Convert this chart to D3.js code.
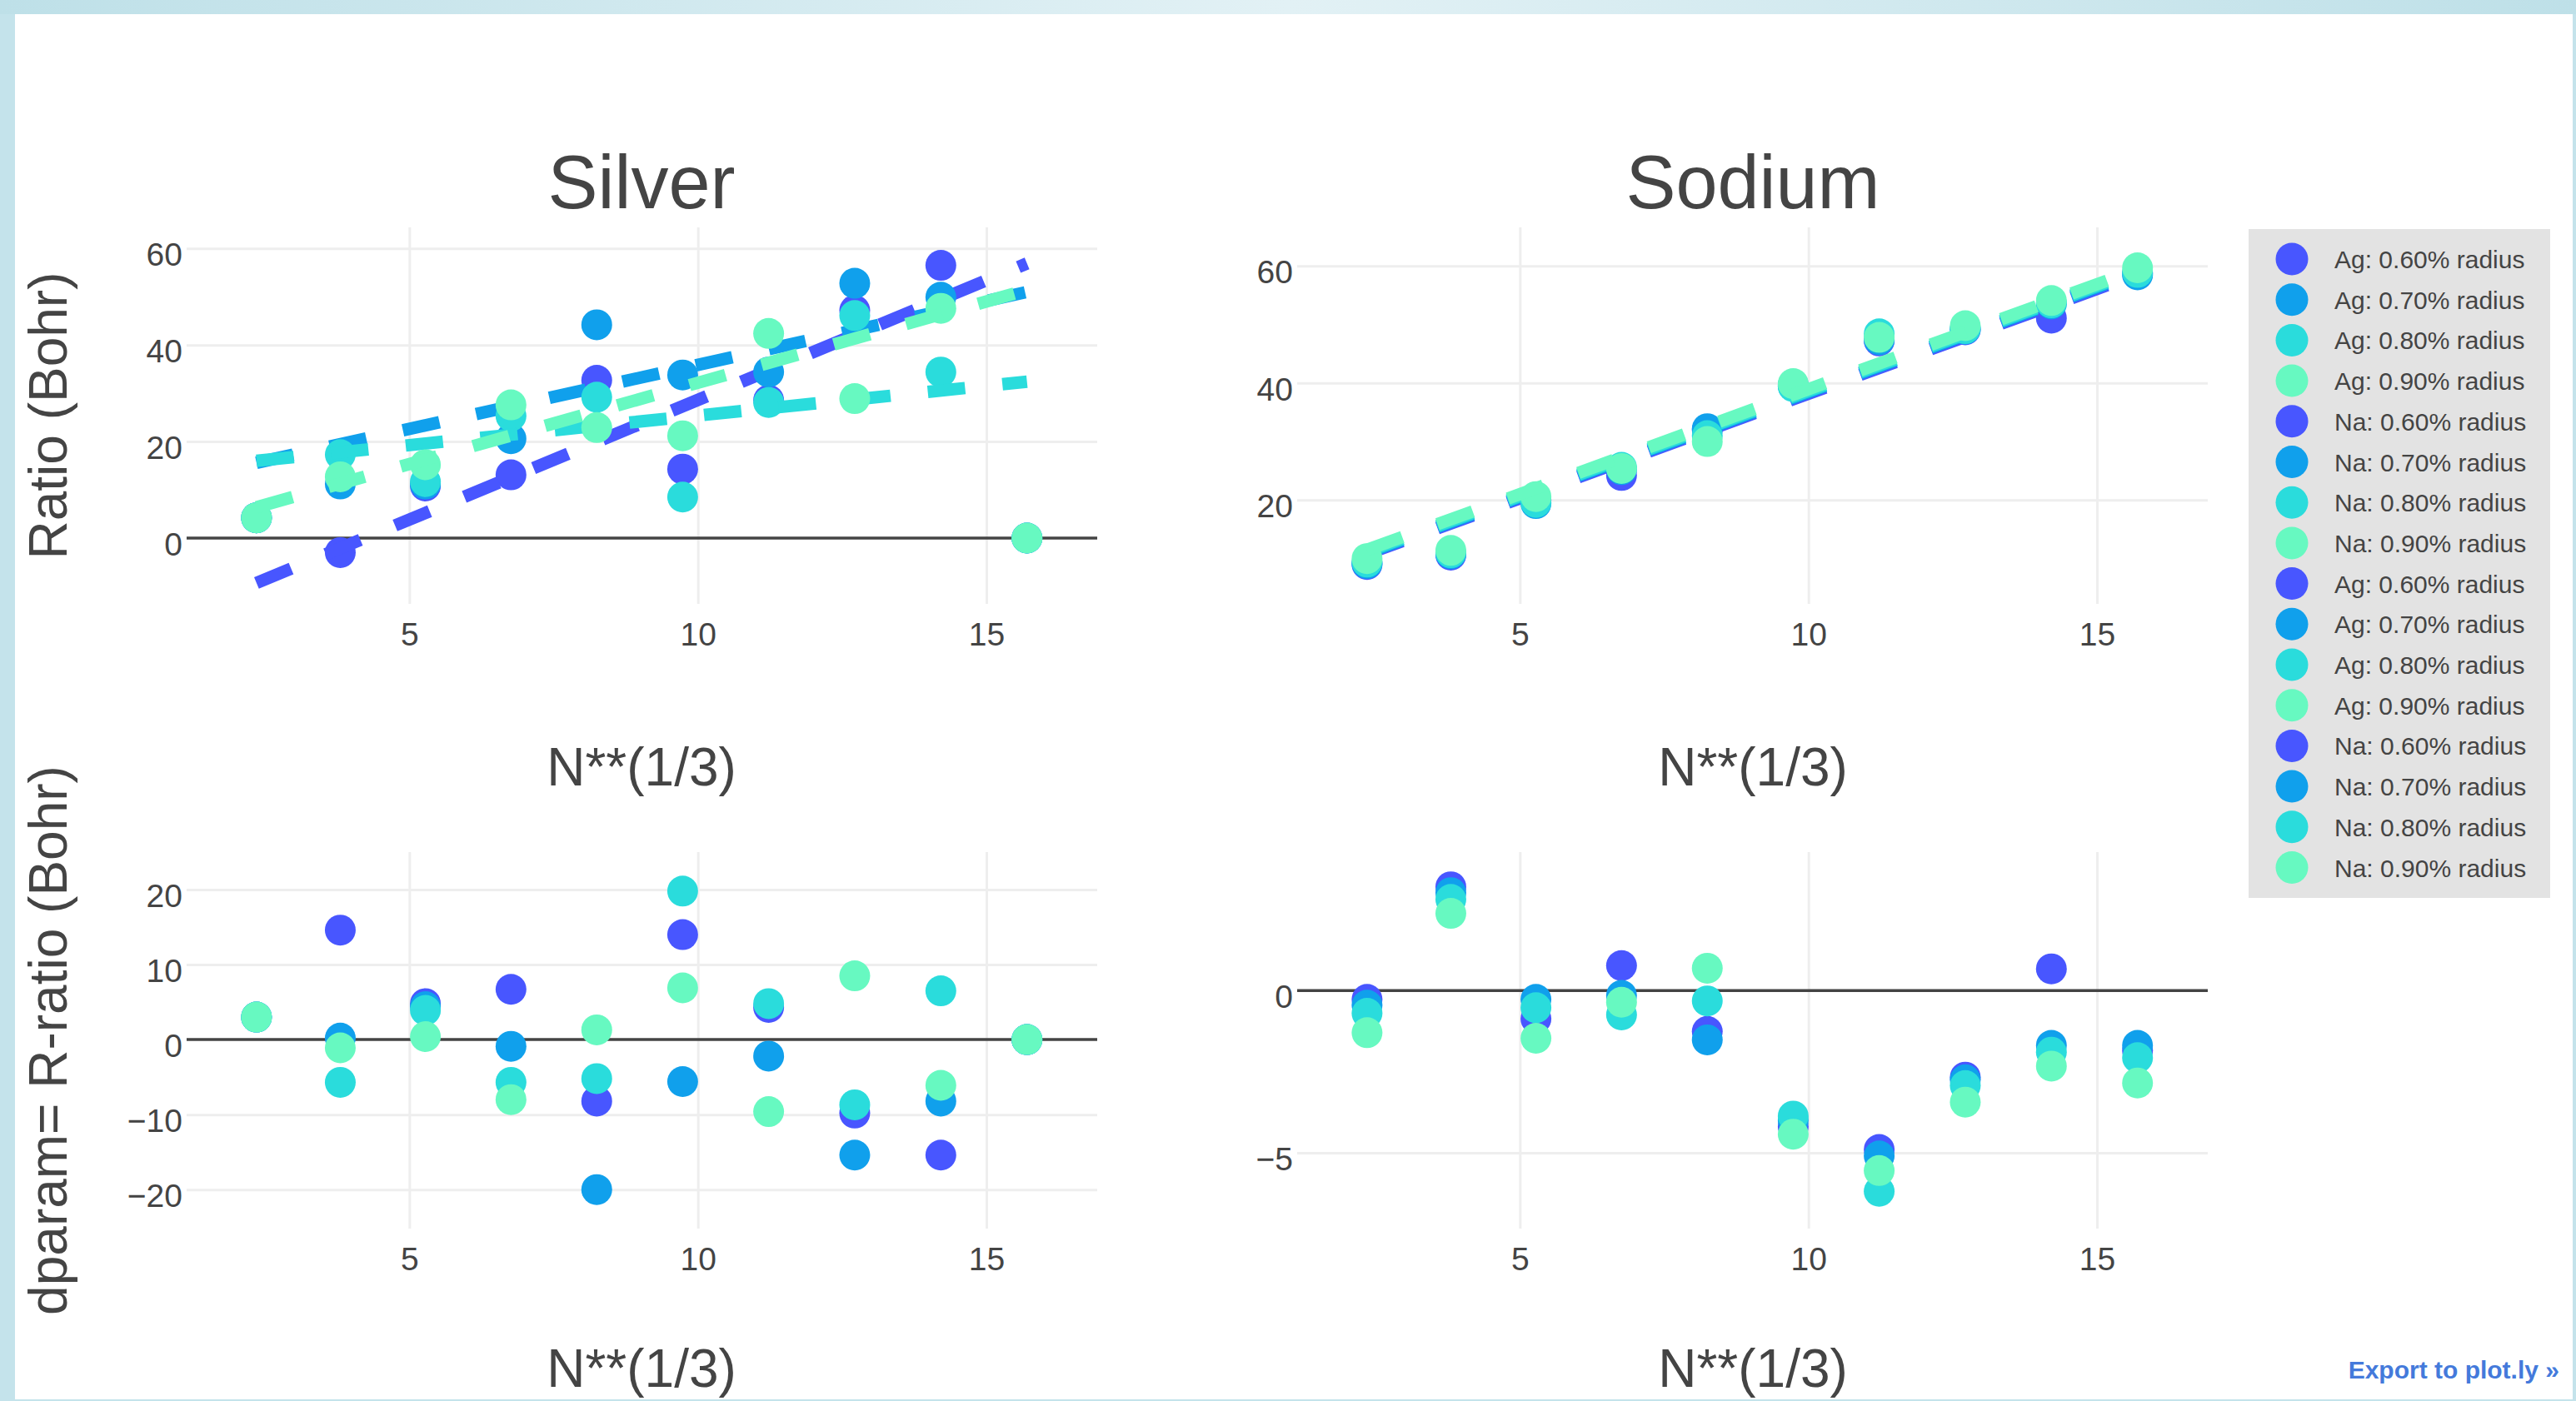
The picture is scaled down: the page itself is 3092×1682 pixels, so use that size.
<!DOCTYPE html>
<html>
<head>
<meta charset="utf-8">
<script src="https://cdn.jsdelivr.net/npm/d3@7"></script>
<style>
    body { margin: 0; background: #fff; }
    svg { display: block; font-family: 'Liberation Sans', Arial, sans-serif; }
</style>
</head>
<body>
<svg id="chart" width="3092" height="1682"></svg>
<script>
/**
 * Data.
 */
// N**(1/3) of the clusters, shared by every panel
const nThird = [2.351, 3.803, 5.278, 6.761, 8.247, 9.736, 11.226, 12.718, 14.210, 15.703];
const radii = ['0.60', '0.70', '0.80', '0.90'];

// Silver: ratio (Bohr)
const agRatio60 = [4.2, -3.0, 10.8, 13.1, 32.7, 14.3, 28.6, 47.2, 56.5, 0];
const agRatio70 = [4.2, 11.2, 11.2, 20.6, 44.2, 33.8, 34.4, 52.8, 49.9, 0];
const agRatio80 = [4.2, 17.3, 11.7, 25.3, 29.2, 8.5, 28.1, 46.1, 34.4, 0];
const agRatio90 = [4.2, 12.7, 15.2, 27.6, 22.9, 21.2, 42.4, 28.9, 47.6, 0];

// Silver: linear fits, value at the first and the last N**(1/3)
const agFit60 = [-9.3, 56.9];
const agFit70 = [15.6, 51.0];
const agFit80 = [16.0, 32.4];
const agFit90 = [6.4, 51.4];

// Silver: dparam = R - ratio
const agDparam60 = [3.0, 14.6, 4.8, 6.7, -8.2, 14.0, 4.3, -9.8, -15.4, 0];
const agDparam70 = [3.0, 0.2, 4.4, -0.9, -20.0, -5.6, -2.2, -15.4, -8.2, 0];
const agDparam80 = [3.0, -5.7, 3.9, -5.7, -5.2, 19.8, 4.8, -8.7, 6.5, 0];
const agDparam90 = [3.0, -1.1, 0.4, -8.0, 1.3, 6.9, -9.6, 8.5, -6.1, 0];

// Sodium: ratio (Bohr)
const naRatio60 = [9.0, 10.6, 20.0, 24.2, 32.0, 39.7, 47.2, 49.1, 51.1, 58.7];
const naRatio70 = [9.15, 10.8, 19.4, 25.2, 32.2, 39.5, 47.4, 49.2, 53.5, 58.5];
const naRatio80 = [9.4, 11.0, 19.6, 25.6, 31.0, 39.4, 48.4, 49.3, 53.7, 58.9];
const naRatio90 = [10.0, 11.4, 20.6, 25.4, 30.0, 39.9, 47.8, 49.8, 54.1, 59.7];

// Sodium: linear fits
const naFit60 = [10.8, 58.6];
const naFit70 = [11.0, 58.9];
const naFit80 = [11.2, 59.1];
const naFit90 = [11.5, 59.4];

// Sodium: dparam = R - ratio
const naDparam60 = [-0.27, 3.2, -0.87, 0.77, -1.26, -4.2, -4.9, -2.67, 0.67, -1.85];
const naDparam70 = [-0.45, 3.02, -0.27, -0.15, -1.52, -4.0, -5.1, -2.75, -1.69, -1.69];
const naDparam80 = [-0.7, 2.81, -0.53, -0.75, -0.32, -3.87, -6.19, -2.93, -1.9, -2.07];
const naDparam90 = [-1.3, 2.38, -1.47, -0.36, 0.69, -4.43, -5.55, -3.44, -2.33, -2.85];

// Axis ticks
const xTicks = [5, 10, 15];
const agRatioTicks = [0, 20, 40, 60];
const naRatioTicks = [20, 40, 60];
const agDparamTicks = [-20, -10, 0, 10, 20];
const naDparamTicks = [-5, 0];

/**
 * Visual configs.
 */
const colors = ['#4856ff', '#10a0ec', '#2adcdc', '#67f9c1'],
    textColor = '#444',
    gridColor = '#eeeeee',
    plotWidth = 1093,
    plotHeight = 452,
    markerRadius = 18.5,
    fitWidth = 15,
    tickFont = 39,
    xDomain = [1.14, 16.92];

const svg = d3.select('#chart');

/**
 * Page frame.
 */
const band = svg.append('defs').append('linearGradient').attr('id', 'band');
band.append('stop').attr('offset', '0%').attr('stop-color', '#bee0e8');
band.append('stop').attr('offset', '50%').attr('stop-color', '#e2f1f5');
band.append('stop').attr('offset', '100%').attr('stop-color', '#bee0e8');

svg.append('rect').attr('width', 3092).attr('height', 1682).attr('fill', '#c4e3eb');
svg.append('rect').attr('width', 3092).attr('height', 17).attr('fill', 'url(#band)');
svg.append('rect').attr('x', 18).attr('y', 17).attr('width', 3070).attr('height', 1663).attr('fill', '#fff');

/**
 * One subplot: grid, zero line, markers and optional dashed fit lines.
 */
function drawPanel(p) {
    const x = d3.scaleLinear().domain(xDomain).range([0, plotWidth]),
        y = d3.scaleLinear().domain(p.yDomain).range([plotHeight, 0]);

    const g = svg.append('g').attr('transform', 'translate(' + p.left + ',' + p.top + ')');

    // Vertical grid and x tick labels
    const xAxis = g.append('g').attr('transform', 'translate(0,' + plotHeight + ')')
        .call(d3.axisBottom(x).tickValues(xTicks).tickSize(-plotHeight).tickPadding(22));

    // Horizontal grid and y tick labels
    const yAxis = g.append('g')
        .call(d3.axisLeft(y).tickValues(p.yTicks).tickSize(-plotWidth).tickPadding(5)
            .tickFormat(d => d < 0 ? '\u2212' + Math.abs(d) : d));

    [xAxis, yAxis].forEach(a => {
        a.select('.domain').remove();
        a.selectAll('line').attr('stroke', gridColor).attr('stroke-width', 3);
        a.selectAll('text').attr('fill', textColor).attr('font-size', tickFont)
            .attr('font-family', "'Liberation Sans', Arial, sans-serif");
    });
    yAxis.selectAll('text').attr('dy', '0.52em');
    yAxis.selectAll('.tick').filter(d => d === 0).select('line').remove();

    if (p.yDomain[0] < 0) {
        g.append('line')
            .attr('x1', 0).attr('x2', plotWidth)
            .attr('y1', y(0)).attr('y2', y(0))
            .attr('stroke', textColor).attr('stroke-width', 3.5);
    }

    const fitLine = d3.line().x(d => x(d[0])).y(d => y(d[1]));

    p.series.forEach((values, i) => {
        g.append('g').selectAll('circle').data(values).join('circle')
            .attr('cx', (d, j) => x(nThird[j]))
            .attr('cy', d => y(d))
            .attr('r', markerRadius)
            .attr('fill', colors[i]);

        if (p.fits) {
            const ends = [[nThird[0], p.fits[i][0]], [nThird[nThird.length - 1], p.fits[i][1]]];
            g.append('path')
                .attr('d', fitLine(ends))
                .attr('fill', 'none')
                .attr('stroke', colors[i])
                .attr('stroke-width', fitWidth)
                .attr('stroke-dasharray', (fitWidth * 3) + ',' + (fitWidth * 3));
        }
    });
}

const panels = [
    { left: 224, top: 273, yDomain: [-13.63, 64.37], yTicks: agRatioTicks,
        series: [agRatio60, agRatio70, agRatio80, agRatio90], fits: [agFit60, agFit70, agFit80, agFit90] },
    { left: 1557, top: 273, yDomain: [2.26, 66.6], yTicks: naRatioTicks,
        series: [naRatio60, naRatio70, naRatio80, naRatio90], fits: [naFit60, naFit70, naFit80, naFit90] },
    { left: 224, top: 1023, yDomain: [-25.2, 25.0], yTicks: agDparamTicks,
        series: [agDparam60, agDparam70, agDparam80, agDparam90] },
    { left: 1557, top: 1023, yDomain: [-7.34, 4.27], yTicks: naDparamTicks,
        series: [naDparam60, naDparam70, naDparam80, naDparam90] }
];
panels.forEach(drawPanel);

/**
 * Titles.
 */
function addText(x, y, text, size, rotate) {
    return svg.append('text')
        .attr('transform', 'translate(' + x + ',' + y + ')' + (rotate ? ' rotate(-90)' : ''))
        .attr('text-anchor', 'middle')
        .attr('font-size', size)
        .attr('fill', textColor)
        .text(text);
}

addText(770, 250, 'Silver', 90);
addText(2104, 250, 'Sodium', 90);
addText(770, 943, 'N**(1/3)', 64);
addText(2104, 943, 'N**(1/3)', 64);
addText(770, 1665, 'N**(1/3)', 64);
addText(2104, 1665, 'N**(1/3)', 64);
addText(80, 499, 'Ratio (Bohr)', 64, true);
addText(80, 1249, 'dparam= R-ratio (Bohr)', 64, true);

/**
 * Legend: markers of the four panels, in trace order.
 */
const legendItems = [];
['Ag', 'Na', 'Ag', 'Na'].forEach(el => {
    radii.forEach((r, i) => legendItems.push({ label: el + ': ' + r + '% radius', color: colors[i] }));
});

const legend = svg.append('g').attr('transform', 'translate(2699,275)');
legend.append('rect').attr('width', 362).attr('height', 803).attr('fill', '#e3e3e3');

const items = legend.selectAll('.item').data(legendItems).join('g')
    .attr('class', 'item')
    .attr('transform', (d, i) => 'translate(0,' + (36 + i * 48.7) + ')');
items.append('circle').attr('cx', 52).attr('r', 19.5).attr('fill', d => d.color);
items.append('text')
    .attr('x', 103).attr('y', 11)
    .attr('font-size', 30)
    .attr('fill', textColor)
    .text(d => d.label);

svg.append('text')
    .attr('x', 3072).attr('y', 1655)
    .attr('text-anchor', 'end')
    .attr('font-size', 30)
    .attr('font-weight', 'bold')
    .attr('fill', '#447adb')
    .text('Export to plot.ly \u00bb');
</script>
</body>
</html>
